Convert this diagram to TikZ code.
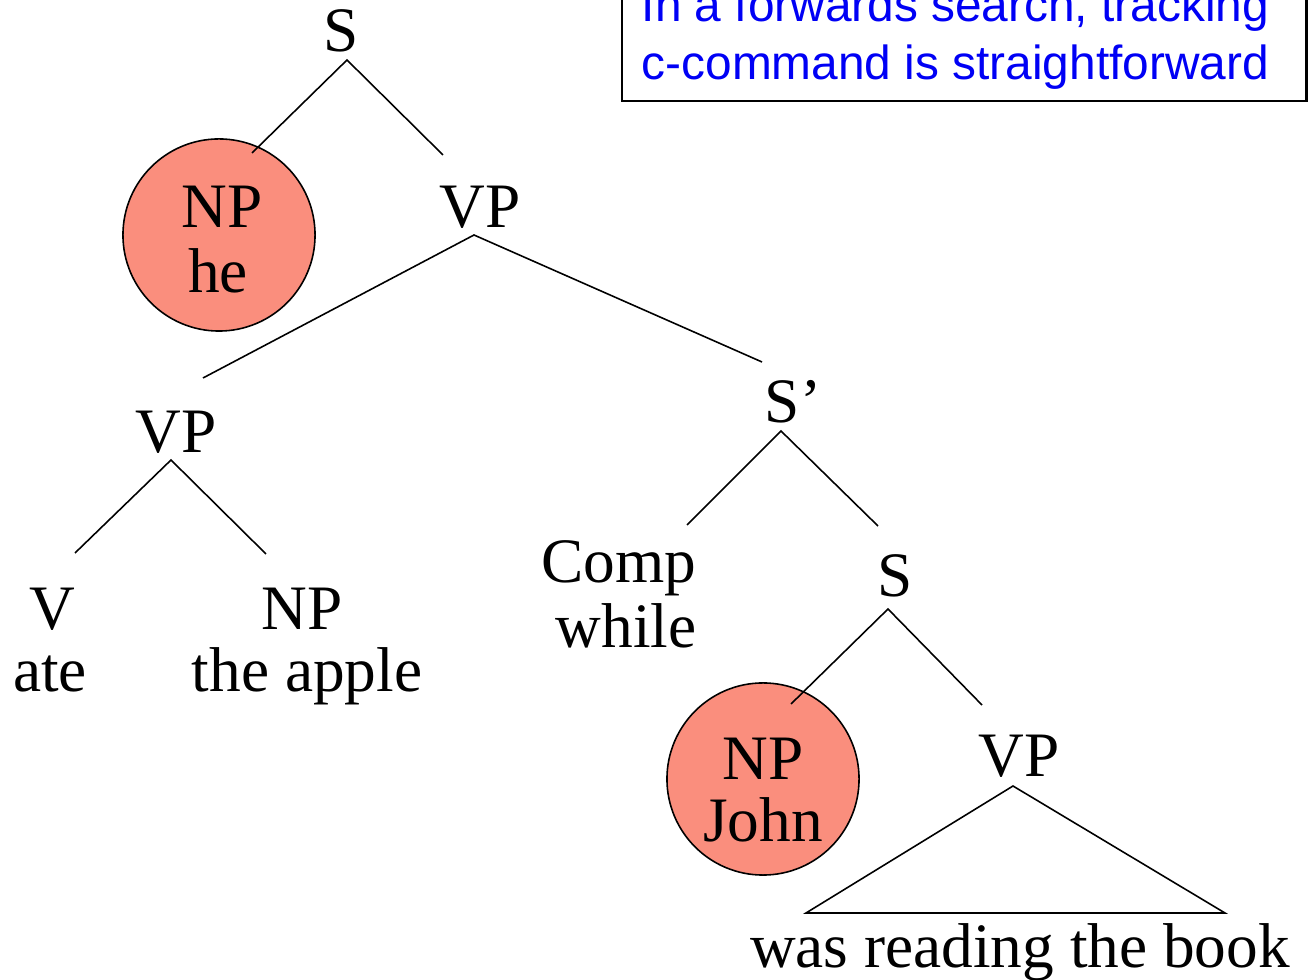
\documentclass[tikz,border=0pt]{standalone}
\usepackage{fontspec}
\setmainfont{Liberation Serif}
\newfontfamily\boxfont{Liberation Sans}
\definecolor{npfill}{RGB}{250,142,125}
\definecolor{noteblue}{RGB}{0,0,245}
\begin{document}
\begin{tikzpicture}[x=0.01cm,y=-0.01cm,
  lbl/.style={anchor=base,inner sep=0pt,font=\fontsize{18}{18.5}\selectfont},
  npcircle/.style={circle,draw=black,line width=0.45pt,fill=npfill,minimum size=1.92cm,inner sep=0pt},
  branch/.style={line width=0.45pt},
  note/.style={anchor=base west,inner sep=0pt,text=noteblue,font=\boxfont\fontsize{13.6}{16.5}\selectfont}]
\useasboundingbox (0,0) rectangle (1312,980);
% note box
\node[draw=black,line width=0.6pt,minimum width=6.84cm,minimum height=1.3cm,anchor=south west,inner sep=0pt] (notebox) at (621,102) {};
\node[note] (note1) at (641,22) {In a forwards search, tracking};
\node[note] (note2) at (641,80) {c-command is straightforward};
% circles
\node[npcircle] (heC) at (219,235) {};
\node[npcircle] (johnC) at (763,779) {};
% labels
\node[lbl] (S0) at (341,52) {S};
\node[lbl] (NPhe) at (222,228) {NP};
\node[lbl] (he) at (218,293) {he};
\node[lbl] (VP1) at (480,228) {VP};
\node[lbl] (VP2) at (176,453) {VP};
\node[lbl] (V) at (52,630) {V};
\node[lbl] (ate) at (50,692) {ate};
\node[lbl] (NPapple) at (302,630) {NP};
\node[lbl] (apple) at (307,692) {the apple};
\node[lbl] (Sbar) at (793,423) {S’};
\node[lbl,anchor=base east] (Comp) at (697,583) {Comp};
\node[lbl,anchor=base east] (while) at (697,648) {while};
\node[lbl] (S1) at (895,597) {S};
\node[lbl] (NPjohn) at (763,780) {NP};
\node[lbl] (John) at (763,842) {John};
\node[lbl] (VP3) at (1019,777) {VP};
\node[lbl] (book) at (1020,968) {was reading the book};
% branch coordinates
\coordinate (aS0) at (347,60);
\coordinate (eHe) at (252,153);
\coordinate (eVP1) at (443,155);
\coordinate (aVP1) at (474,235);
\coordinate (eVP2) at (203,378);
\coordinate (eSbar) at (762,362);
\coordinate (aVP2) at (171,460);
\coordinate (eV) at (75,553);
\coordinate (eNPapple) at (266,554);
\coordinate (aSbar) at (781,431);
\coordinate (eComp) at (687,525);
\coordinate (eS1) at (878,526);
\coordinate (aS1) at (888,609);
\coordinate (eJohn) at (791,704);
\coordinate (eVP3) at (982,705);
\coordinate (aVP3) at (1013,786);
\coordinate (tL) at (806,913);
\coordinate (tR) at (1225,913);
% branches
\draw[branch] (eHe) -- (aS0) -- (eVP1);
\draw[branch] (eVP2) -- (aVP1) -- (eSbar);
\draw[branch] (eV) -- (aVP2) -- (eNPapple);
\draw[branch] (eComp) -- (aSbar) -- (eS1);
\draw[branch] (eJohn) -- (aS1) -- (eVP3);
\draw[branch,line join=miter] (aVP3) -- (tL) -- (tR) -- cycle;
\end{tikzpicture}
\end{document}
